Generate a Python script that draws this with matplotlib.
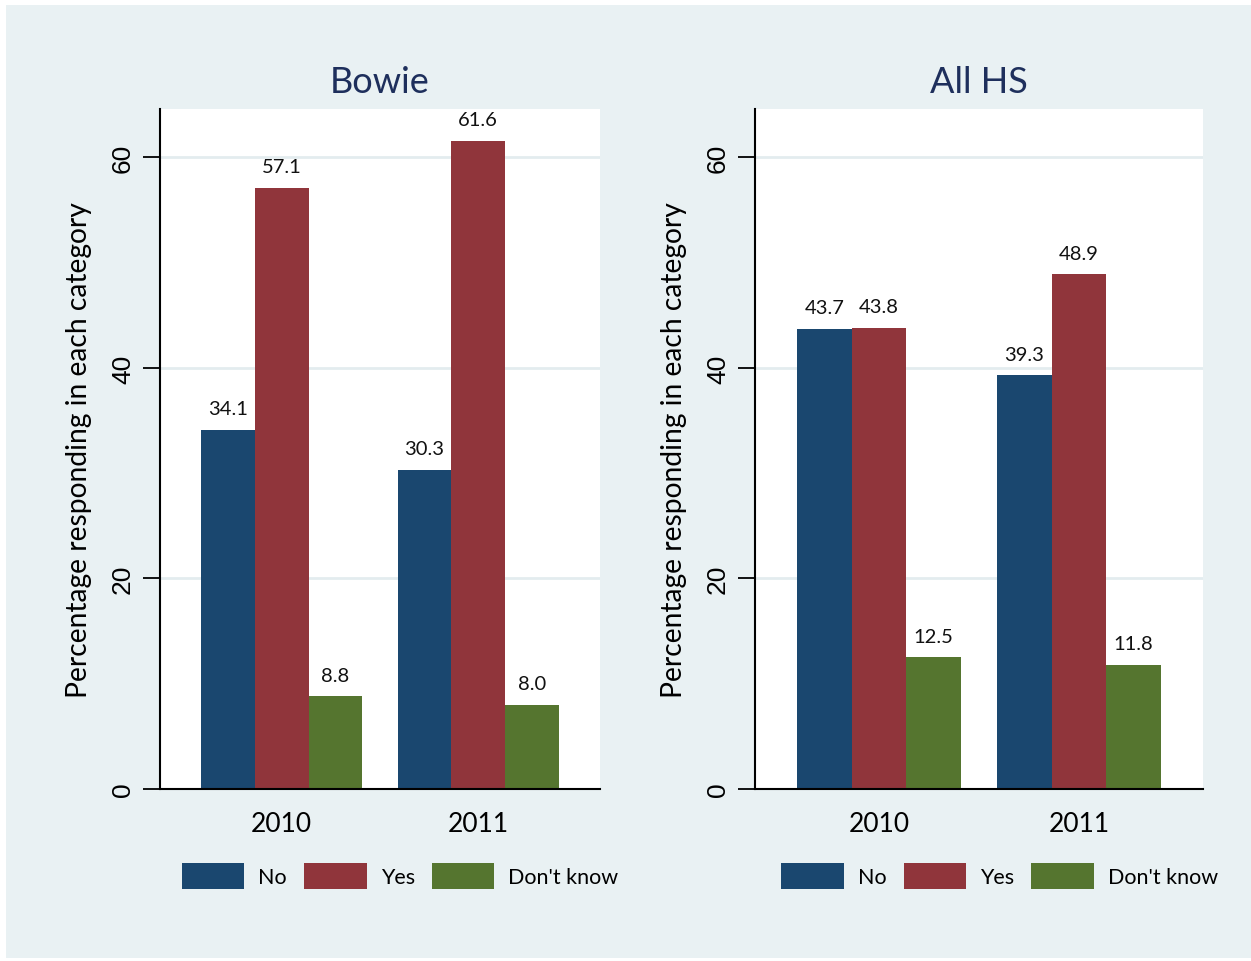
import matplotlib
matplotlib.use("Agg")
import matplotlib.pyplot as plt
import numpy as np
from matplotlib.patches import Rectangle, Patch

years = ["2010", "2011"]
series = ["No", "Yes", "Don't know"]
bowie_no = [34.1, 30.3]
bowie_yes = [57.1, 61.6]
bowie_dk = [8.8, 8.0]
allhs_no = [43.7, 39.3]
allhs_yes = [43.8, 48.9]
allhs_dk = [12.5, 11.8]
titles = ["Bowie", "All HS"]
yticks = [0, 20, 40, 60]

colors = ["#1A476F", "#90353B", "#55752F"]
bg = "#E9F1F3"
gridc = "#E3ECEF"
FONT = "Lato"

fig = plt.figure(figsize=(12.51, 9.62), dpi=100)
fig.patch.set_facecolor("white")
fig.add_artist(Rectangle((6/1251, 3/962), 1 - 6/1251, 1 - 9/962, transform=fig.transFigure,
                         facecolor=bg, edgecolor="none", zorder=-10))

axes_pos = [[160/1251, 1-790/962, 440/1251, 680/962],
            [755/1251, 1-790/962, 448/1251, 680/962]]
data = [[bowie_no, bowie_yes, bowie_dk], [allhs_no, allhs_yes, allhs_dk]]

w = 0.273
x = np.arange(len(years))
for k in range(2):
    ax = fig.add_axes(axes_pos[k])
    ax.set_facecolor("white")
    for i, vals in enumerate(data[k]):
        pos = x + (i - 1) * w
        ax.bar(pos, vals, width=w, color=colors[i], edgecolor="none", zorder=3)
        for p, v in zip(pos, vals):
            ax.text(p, v + 1.2, f"{v:.1f}", ha="center", va="bottom",
                    fontsize=14.5, family=FONT, color="#111111", zorder=4)
    ax.set_xlim(-0.62, 1.62)
    ax.set_ylim(0, 64.6)
    ax.set_yticks(yticks)
    ax.set_yticklabels([str(t) for t in yticks], rotation=90, va="center",
                       fontsize=19, family="Liberation Sans")
    ax.set_xticks(x)
    ax.set_xticklabels(years, fontsize=19, family=FONT)
    ax.tick_params(axis="x", length=0, pad=16)
    ax.tick_params(axis="y", length=12, width=1.3, pad=6)
    for yt in yticks[1:]:
        ax.axhline(yt, color=gridc, lw=2, zorder=1)
    for s in ["top", "right"]:
        ax.spines[s].set_visible(False)
    for s in ["left", "bottom"]:
        ax.spines[s].set_linewidth(1.5)
        ax.spines[s].set_color("black")
        ax.spines[s].set_zorder(5)
    ax.set_ylabel("Percentage responding in each category", fontsize=20.3,
                  family=FONT, labelpad=14)
    ax.set_title(titles[k], fontsize=26, family=FONT, color="#1E2F5C", pad=12)
    handles = [Patch(facecolor=c, edgecolor="none") for c in colors]
    ax.legend(handles, series, loc="center", bbox_to_anchor=(0.546, -0.128),
              ncol=3, frameon=False, prop={"family": FONT, "size": 15.5},
              handlelength=2.9, handleheight=1.5, handletextpad=0.65,
              columnspacing=0.8, borderpad=0.2)

fig.savefig("out.png", dpi=100, facecolor=fig.get_facecolor())
